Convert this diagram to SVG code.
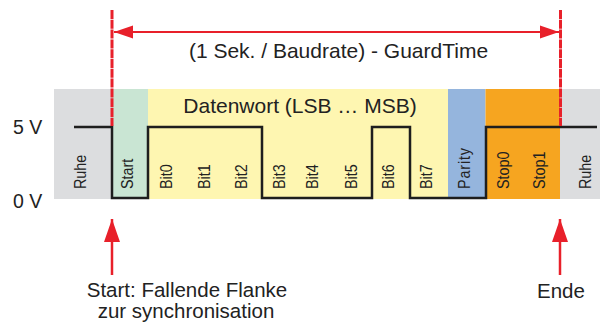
<svg xmlns="http://www.w3.org/2000/svg" width="608" height="326" viewBox="0 0 608 326">
<style>
.t{font-family:"Liberation Sans",Arial,Helvetica,sans-serif;fill:#222;}
.big{font-size:21px;}
.mid{font-size:20.5px;}
.rot{font-size:16.5px;}
.red{stroke:#e8202a;fill:none;}
.sig{stroke:#1e1e1e;stroke-width:2.5;fill:none;stroke-linejoin:miter;}
</style>
<defs>
<marker id="ah" markerUnits="userSpaceOnUse" markerWidth="20" markerHeight="14" refX="19" refY="7" orient="auto-start-reverse" viewBox="0 0 20 14">
<path d="M0,0.5 L19,7 L0,13.5 Z" fill="#e8202a"/>
</marker>
<marker id="ah2" markerUnits="userSpaceOnUse" markerWidth="24" markerHeight="17" refX="23" refY="8.5" orient="auto" viewBox="0 0 24 17">
<path d="M0,0.5 L23,8.5 L0,16.5 Z" fill="#e8202a"/>
</marker>
</defs>
<rect width="608" height="326" fill="#fff"/>
<g id="bands">
<rect x="54" y="89" width="58" height="110" fill="#dcdddf"/>
<rect x="112" y="89" width="36" height="110" fill="#c9e5d3"/>
<rect x="148" y="89" width="300" height="110" fill="#fef6b1"/>
<rect x="448" y="89" width="37.5" height="110" fill="#95b5dd"/>
<rect x="485.5" y="89" width="74.5" height="110" fill="#f6a520"/>
<rect x="560" y="89" width="40" height="110" fill="#dcdddf"/>
</g>
<g id="levels">
<text class="t" x="13" y="134" style="font-size:19.5px">5 V</text>
<text class="t" x="13" y="208" style="font-size:19.5px">0 V</text>
</g>
<g id="labels">
<text class="t big" x="300" y="113" text-anchor="middle">Datenwort (LSB … MSB)</text>
<g class="t rot">
<text transform="translate(86,189) rotate(-90) scale(0.87,1)">Ruhe</text>
<text transform="translate(133,189) rotate(-90) scale(0.87,1)">Start</text>
<text transform="translate(172,189) rotate(-90) scale(0.87,1)">Bit0</text>
<text transform="translate(209.5,189) rotate(-90) scale(0.87,1)">Bit1</text>
<text transform="translate(247,189) rotate(-90) scale(0.87,1)">Bit2</text>
<text transform="translate(285,189) rotate(-90) scale(0.87,1)">Bit3</text>
<text transform="translate(318,189) rotate(-90) scale(0.87,1)">Bit4</text>
<text transform="translate(356.5,189) rotate(-90) scale(0.87,1)">Bit5</text>
<text transform="translate(394,189) rotate(-90) scale(0.87,1)">Bit6</text>
<text transform="translate(432,189) rotate(-90) scale(0.87,1)">Bit7</text>
<text transform="translate(470,189) rotate(-90) scale(0.87,1)" letter-spacing="1">Parity</text>
<text transform="translate(509,189) rotate(-90) scale(0.87,1)">Stop0</text>
<text transform="translate(545,189) rotate(-90) scale(0.87,1)">Stop1</text>
<text transform="translate(590.5,189) rotate(-90) scale(0.87,1)">Ruhe</text>
</g>
</g>
<g id="signal">
<path class="sig" d="M74,127 H112 V198 H148 V127 H262 V198 H372 V127 H410 V198 H486 V127 H597"/>
</g>
<g id="connectors">
<line class="red" x1="112" y1="10" x2="112" y2="126" stroke-width="3" stroke-dasharray="9 0.8"/>
<line class="red" x1="560.5" y1="10" x2="560.5" y2="126" stroke-width="3" stroke-dasharray="9 0.8"/>
<line class="red" x1="114" y1="32" x2="559" y2="32" stroke-width="2" marker-start="url(#ah)" marker-end="url(#ah)"/>
<line class="red" x1="112" y1="275" x2="112" y2="219" stroke-width="2.5" marker-end="url(#ah2)"/>
<line class="red" x1="560" y1="275" x2="560" y2="219" stroke-width="2.5" marker-end="url(#ah2)"/>
</g>
<g id="annotations">
<text class="t big" x="338.5" y="58" text-anchor="middle">(1 Sek. / Baudrate) - GuardTime</text>
<text class="t mid" x="187" y="297" text-anchor="middle">Start: Fallende Flanke</text>
<text class="t mid" x="186" y="318" text-anchor="middle">zur synchronisation</text>
<text class="t mid" x="561" y="298" text-anchor="middle">Ende</text>
</g>
</svg>
